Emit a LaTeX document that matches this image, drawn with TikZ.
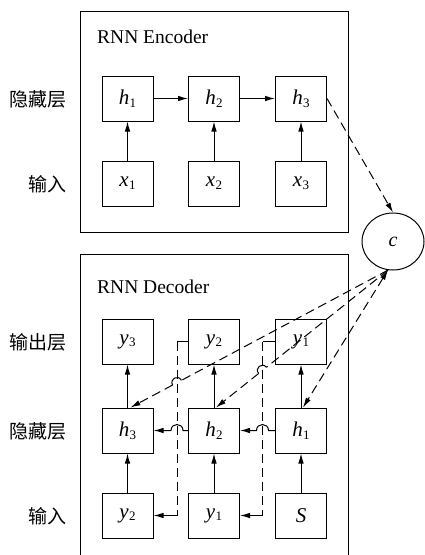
\documentclass[tikz,border=0pt]{standalone}
\usepackage{fontspec}
\setmainfont{Liberation Serif}
\newfontfamily\cjk{Noto Sans CJK SC}
\usetikzlibrary{arrows.meta,calc,shapes.geometric}
\newcommand{\vsub}[2]{\textit{#1}\kern0.3pt\raisebox{-0.3ex}{\fontsize{13}{13}\selectfont #2}}
\begin{document}
\begin{tikzpicture}[x=1pt,y=-1pt,
  cell/.style={draw,line width=1pt,minimum width=51pt,minimum height=45pt,inner sep=0pt,font=\fontsize{21}{21}\selectfont},
  frame/.style={draw,line width=1pt},
  lab/.style={anchor=east,inner sep=0pt,font=\cjk\fontsize{19}{19}\selectfont},
  ttl/.style={anchor=base west,inner sep=0pt,font=\fontsize{19.5}{20}\selectfont},
  ln/.style={line width=1pt},
  tip/.style={-{Latex[length=10pt,width=5.5pt]}},
  arr/.style={line width=1pt,tip},
  dsh/.style={line width=1pt,dash pattern=on 9pt off 5pt},
]
\useasboundingbox (0,0) rectangle (425,555);
% frames
\draw[frame] (80,11) rectangle (348,232);
\draw[frame] (80,254) rectangle (348,600);
\node[ttl] (enc) at (97,43) {RNN Encoder};
\node[ttl] (dec) at (97,293) {RNN Decoder};
% labels
\node[lab] (l1) at (67,99) {隐藏层};
\node[lab] (l2) at (67,184) {输入};
\node[lab] (l3) at (67,342) {输出层};
\node[lab] (l4) at (67,431) {隐藏层};
\node[lab] (l5) at (67,516) {输入};
% encoder
\node[cell] (eh1) at (127.5,98.5) {\vsub{h}{1}};
\node[cell] (eh2) at (214,98.5) {\vsub{h}{2}};
\node[cell] (eh3) at (301,98.5) {\vsub{h}{3}};
\node[cell] (ex1) at (127.5,183.5) {\vsub{x}{1}};
\node[cell] (ex2) at (214,183.5) {\vsub{x}{2}};
\node[cell] (ex3) at (301,183.5) {\vsub{x}{3}};
\draw[arr] (eh1.east) -- (eh2.west);
\draw[arr] (eh2.east) -- (eh3.west);
\draw[arr] (ex1.north) -- (eh1.south);
\draw[arr] (ex2.north) -- (eh2.south);
\draw[arr] (ex3.north) -- (eh3.south);
% context
\node[draw,ellipse,line width=1pt,minimum width=62pt,minimum height=57pt,inner sep=0pt,font=\fontsize{20}{20}\selectfont] (c) at (393,241.5) {\textit{c}};
\draw[dsh,tip] (eh3.east) -- (c.north);
% decoder
\node[cell] (do3) at (127.5,341.5) {\vsub{y}{3}};
\node[cell] (do2) at (214,341.5) {\vsub{y}{2}};
\node[cell] (do1) at (301,341.5) {\vsub{y}{1}};
\node[cell] (dh3) at (127.5,430.5) {\vsub{h}{3}};
\node[cell] (dh2) at (214,430.5) {\vsub{h}{2}};
\node[cell] (dh1) at (301,430.5) {\vsub{h}{1}};
\node[cell] (di2) at (127.5,515.5) {\vsub{y}{2}};
\node[cell] (di1) at (214,515.5) {\vsub{y}{1}};
\node[cell] (dS) at (301,515.5) {\textit{S}};
\draw[arr] (di2.north) -- (dh3.south);
\draw[arr] (di1.north) -- (dh2.south);
\draw[arr] (dS.north) -- (dh1.south);
\draw[arr] (dh3.north) -- (do3.south);
\draw[arr] (dh2.north) -- (do2.south);
\draw[arr] (dh1.north) -- (do1.south);
% feedback lines
\coordinate (fa) at ($(do2.west)+(-11,0)$);
\coordinate (fb) at ($(do1.west)+(-12.5,0)$);
\coordinate (fa2) at (fa |- di2.east);
\coordinate (fb2) at (fb |- di1.east);
\draw[ln] (do2.west) -- (fa);
\draw[ln] (do1.west) -- (fb);
\draw[dsh] (fa) -- (fa2);
\draw[dsh] (fb) -- (fb2);
\draw[arr] (fa2) -- (di2.east);
\draw[arr] (fb2) -- (di1.east);
% hidden recurrences with hops
\coordinate (ha) at (fa |- dh2.west);
\coordinate (hb) at (fb |- dh1.west);
\draw[arr] (dh2.west) -- ($(ha)+(6,0)$) .. controls +(0,-8) and +(0,-8) .. ($(ha)+(-6,0)$) -- (dh3.east);
\draw[arr] (dh1.west) -- ($(hb)+(6,0)$) .. controls +(0,-8) and +(0,-8) .. ($(hb)+(-6,0)$) -- (dh2.east);
% context to decoder hidden states
\coordinate (c0) at (c.260);
\coordinate (t3) at ($(dh3.north)+(3,0)$);
\coordinate (t2) at ($(dh2.north)+(2,0)$);
\coordinate (t1) at ($(dh1.north)+(2,0)$);
\coordinate (PA) at (intersection of c0--t3 and fa--fa2);
\coordinate (PB) at (intersection of c0--t2 and fb--fb2);
\coordinate (A1) at ($(PA)!5pt!(c0)$);
\coordinate (A2) at ($(PA)!5pt!(t3)$);
\coordinate (B1) at ($(PB)!5pt!(c0)$);
\coordinate (B2) at ($(PB)!5pt!(t2)$);
\draw[dsh] (c0) -- (A1);
\draw[ln] (A1) .. controls ($(A1)!7pt!-90:(PA)$) and ($(A2)!7pt!90:(PA)$) .. (A2);
\draw[dsh,tip] (A2) -- (t3);
\draw[dsh] (c0) -- (B1);
\draw[ln] (B1) .. controls ($(B1)!7pt!-90:(PB)$) and ($(B2)!7pt!90:(PB)$) .. (B2);
\draw[dsh,tip] (B2) -- (t2);
\draw[dsh,{Latex[length=10pt,width=5.5pt]}-{Latex[length=10pt,width=5.5pt]}] (c0) -- (t1);
\end{tikzpicture}
\end{document}
